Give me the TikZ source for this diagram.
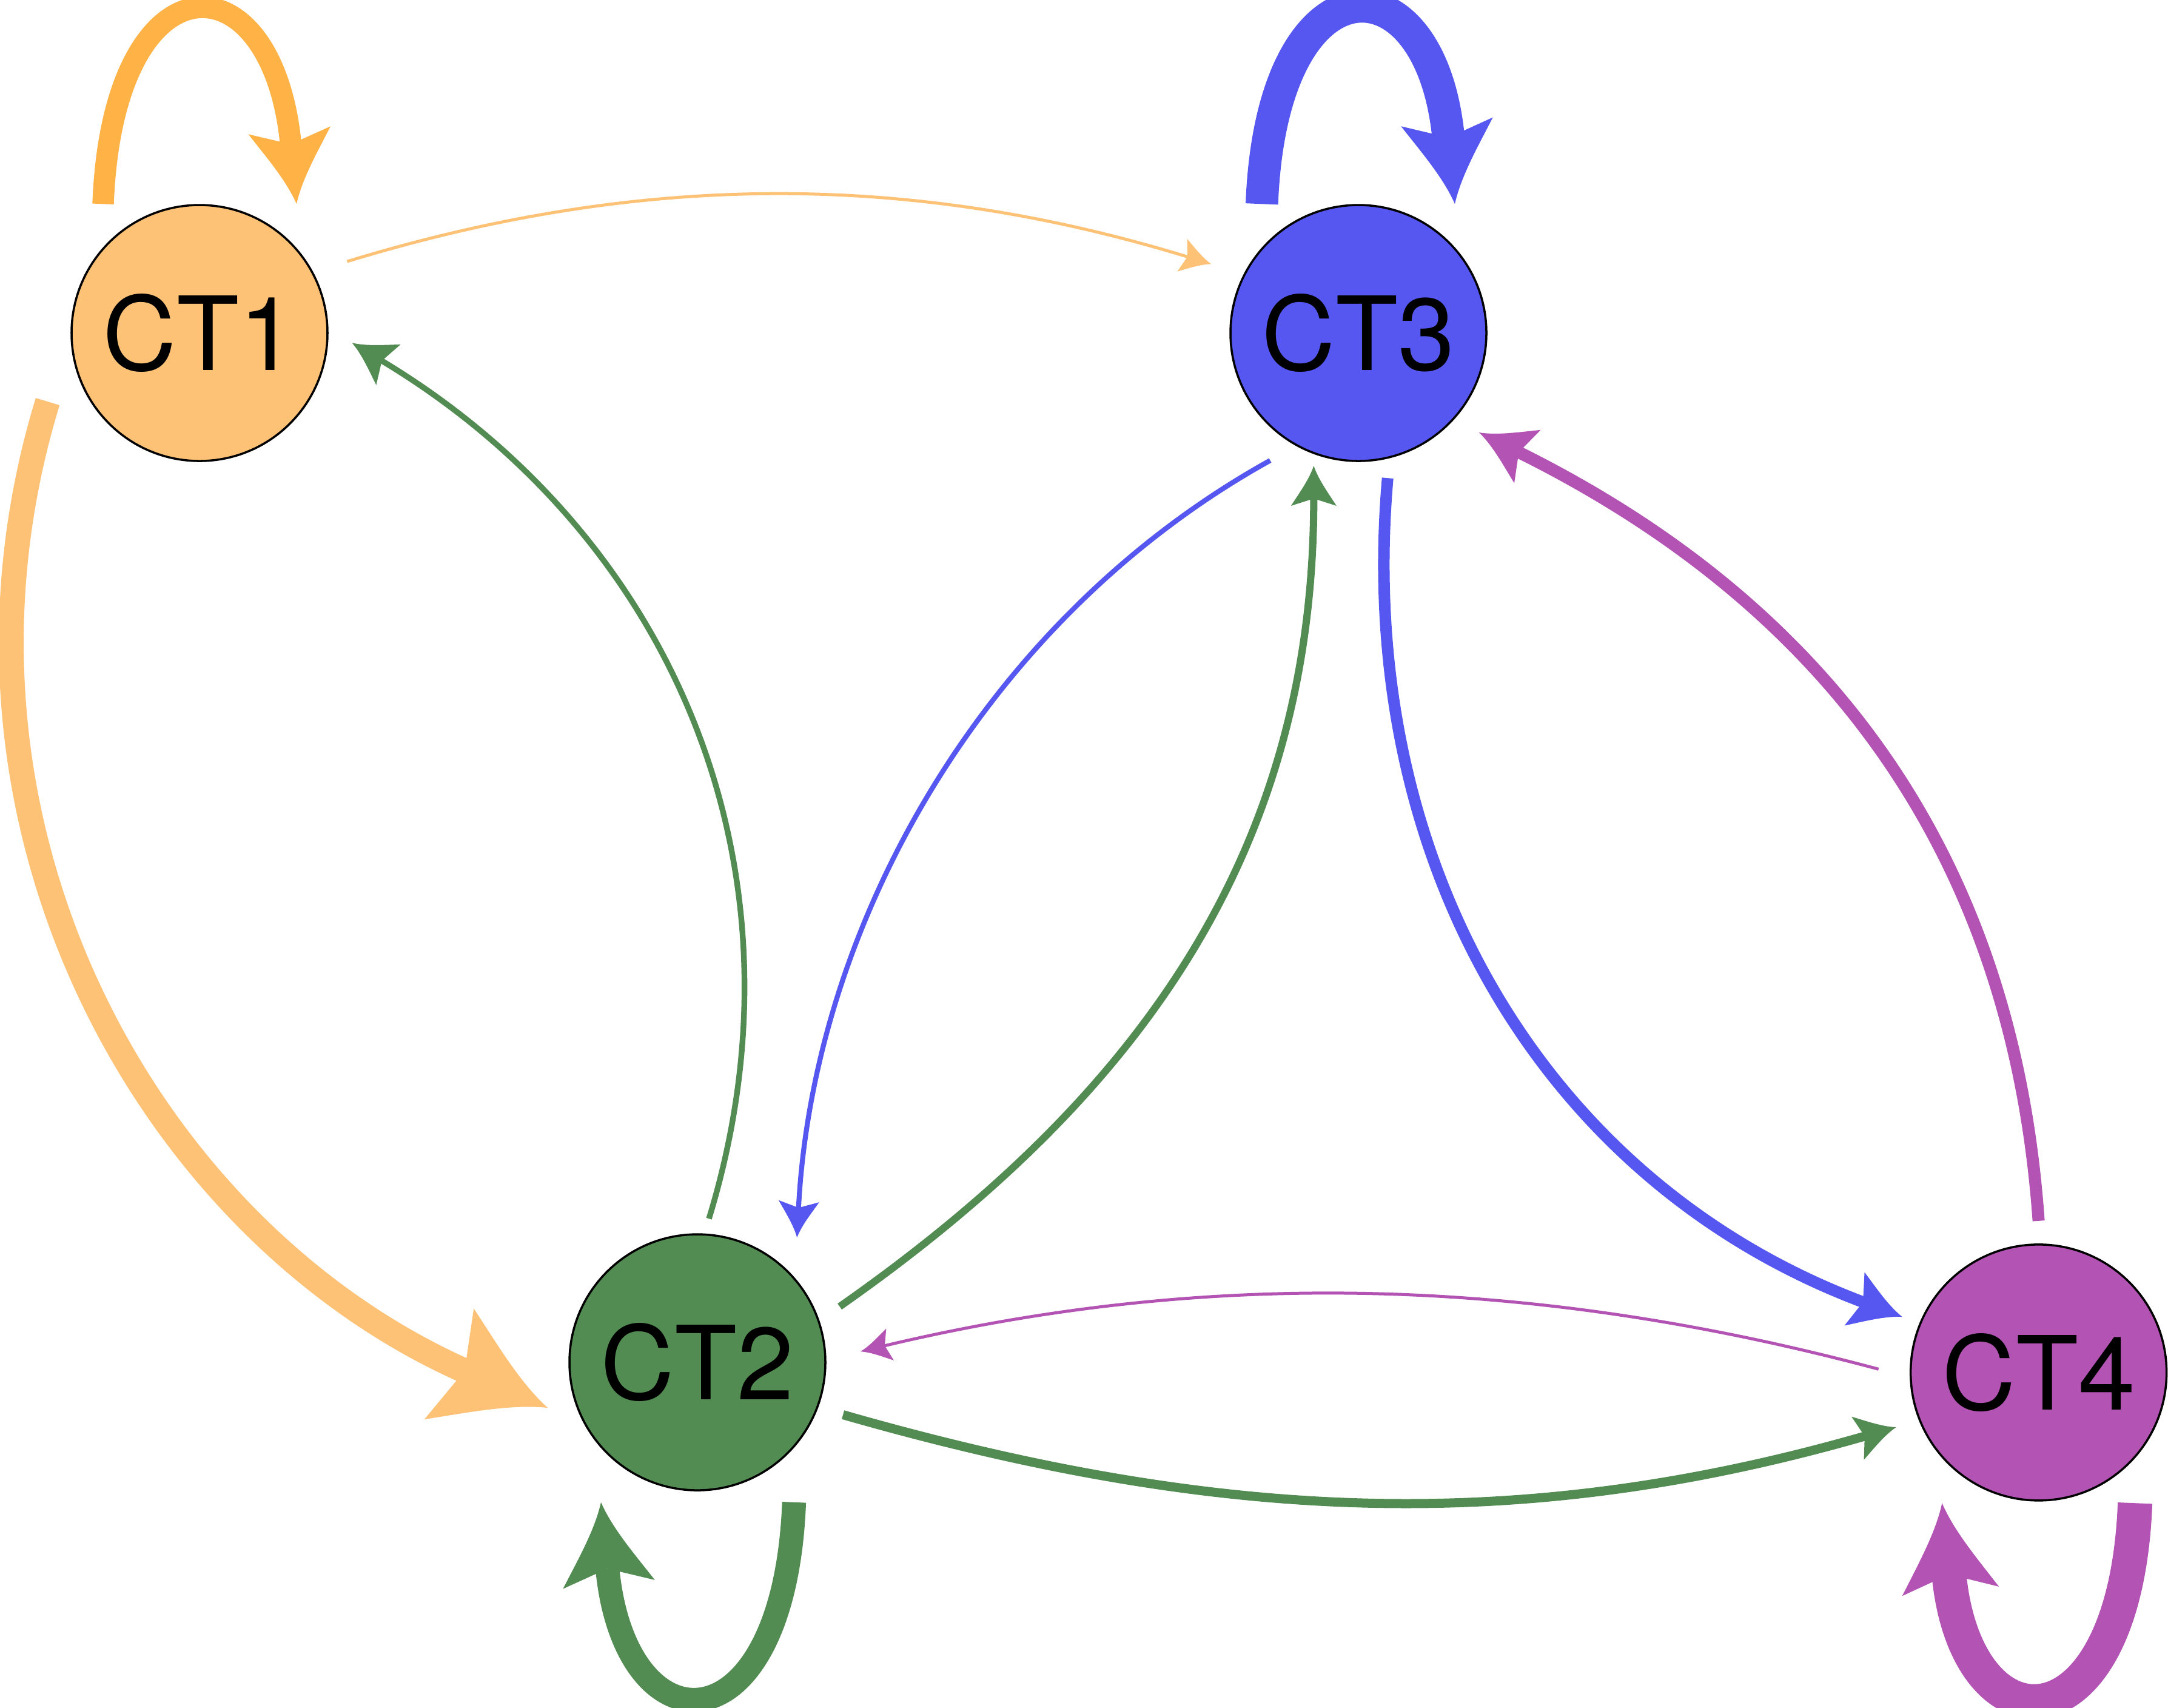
\documentclass[tikz,border=0pt]{standalone}
\usepackage{fontspec}
\setmainfont{TeX Gyre Heros}[Numbers=Lining]
\usepackage{tikz}
\usepackage{xcolor}
\usetikzlibrary{arrows.meta}
\definecolor{cOne}{RGB}{253,194,118}
\definecolor{cOneDark}{RGB}{255,178,70}
\definecolor{cTwo}{RGB}{82,140,82}
\definecolor{cThree}{RGB}{86,87,241}
\definecolor{cFour}{RGB}{179,83,180}
% arrow head with slightly concave flanks
\newdimen\swoopline
\pgfdeclarearrow{
	name = Swoop,
	parameters = {\the\pgfarrowlength,\the\pgfarrowwidth,\the\pgfarrowinset},
	setup code = {
		\pgfarrowssettipend{0pt}
		\pgfarrowssetbackend{-\pgfarrowlength}
		\swoopline=-\pgfarrowlength
		\advance\swoopline by \pgfarrowinset
		\pgfarrowssetlineend{\swoopline}
		\pgfarrowshullpoint{0pt}{0pt}
		\pgfarrowsupperhullpoint{-\pgfarrowlength}{.5\pgfarrowwidth}
		\pgfarrowssavethe\pgfarrowlength
		\pgfarrowssavethe\pgfarrowwidth
		\pgfarrowssavethe\pgfarrowinset
	},
	drawing code = {
		\pgfpathmoveto{\pgfqpoint{0pt}{0pt}}
		\pgfpathcurveto{\pgfpoint{-.333\pgfarrowlength}{.097\pgfarrowwidth}}{\pgfpoint{-.667\pgfarrowlength}{.31\pgfarrowwidth}}{\pgfpoint{-\pgfarrowlength}{.5\pgfarrowwidth}}
		\pgfpathlineto{\pgfpoint{-\pgfarrowlength+\pgfarrowinset}{0pt}}
		\pgfpathlineto{\pgfpoint{-\pgfarrowlength}{-.5\pgfarrowwidth}}
		\pgfpathcurveto{\pgfpoint{-.667\pgfarrowlength}{-.31\pgfarrowwidth}}{\pgfpoint{-.333\pgfarrowlength}{-.097\pgfarrowwidth}}{\pgfqpoint{0pt}{0pt}}
		\pgfpathclose
		\pgfusepathqfill
	},
	defaults = {length=5mm, width=5mm, inset=1mm}
}
\tikzset{
	ctnode/.style={circle, draw=black, line width=0.5pt, minimum size=2.11cm, inner sep=0pt, text=black, font=\fontsize{24}{28}\selectfont},
	link/.style n args={3}{-{Swoop[length=#1, width=#2, inset=#3]}},
}

\begin{document}
\begin{tikzpicture}
	\useasboundingbox (0,0) rectangle (17.875,-14.075);
	% cell types
	\node[ctnode, fill=cOne]   (ct1) at (1.645,-2.745)  {CT1};
	\node[ctnode, fill=cThree] (ct3) at (11.2,-2.745)   {CT3};
	\node[ctnode, fill=cTwo]   (ct2) at (5.75,-11.23)   {CT2};
	\node[ctnode, fill=cFour]  (ct4) at (16.808,-11.314) {CT4};
	% self loops
	\draw[cOneDark, line width=0.177cm, link={0.61cm}{0.68cm}{0.115cm}] ([xshift=-0.795cm]ct1.north) .. controls +(0.08,2.07) and +(-0.2,2.07) .. ([xshift=0.8cm]ct1.north);
	\draw[cThree, line width=0.268cm, link={0.68cm}{0.76cm}{0.13cm}] ([xshift=-0.796cm]ct3.north) .. controls +(0.08,2.07) and +(-0.2,2.07) .. ([xshift=0.795cm]ct3.north);
	\draw[cTwo, line width=0.197cm, link={0.68cm}{0.76cm}{0.13cm}] ([xshift=0.797cm,yshift=-0.09cm]ct2.south) .. controls +(-0.08,-2.07) and +(0.2,-2.07) .. ([xshift=-0.795cm,yshift=-0.09cm]ct2.south);
	\draw[cFour, line width=0.285cm, link={0.73cm}{0.8cm}{0.14cm}] ([xshift=0.795cm,yshift=-0.013cm]ct4.south) .. controls +(-0.08,-2.07) and +(0.2,-2.07) .. ([xshift=-0.796cm,yshift=-0.013cm]ct4.south);
	% transitions
	\draw[cOne, line width=0.205cm, link={0.89cm}{1.0cm}{0.14cm}] ([shift={(204.3:1.374)}]ct1.center) to[out=253, in=156] ([shift={(196.9:1.29)}]ct2.center);
	\draw[cOne, line width=0.025cm, link={0.25cm}{0.28cm}{0.045cm}] ([shift={(25.85:1.352)}]ct1.center) to[out=17, in=163, looseness=0.92] ([shift={(154.9:1.34)}]ct3.center);
	\draw[cTwo, line width=0.047cm, link={0.35cm}{0.39cm}{0.063cm}] ([shift={(85.4:1.188)}]ct2.center) to[out=73, in=329] ([shift={(356.3:1.26)}]ct1.center);
	\draw[cThree, line width=0.041cm, link={0.3cm}{0.335cm}{0.054cm}] ([shift={(235.3:1.278)}]ct3.center) to[out=209, in=87, looseness=0.9] ([shift={(51.4:1.316)}]ct2.center);
	\draw[cTwo, line width=0.06cm, link={0.33cm}{0.375cm}{0.06cm}] ([shift={(21.4:1.26)}]ct2.center) to[out=35, in=270] ([shift={(251.4:1.155)}]ct3.center);
	\draw[cThree, line width=0.095cm, link={0.42cm}{0.47cm}{0.075cm}] ([shift={(281.4:1.22)}]ct3.center) to[out=265, in=159.4] ([shift={(157.8:1.215)}]ct4.center);
	\draw[cFour, line width=0.1cm, link={0.445cm}{0.49cm}{0.08cm}] ([shift={(90:1.25)}]ct4.center) to[out=94, in=333.6] ([shift={(320.5:1.29)}]ct3.center);
	\draw[cFour, line width=0.025cm, link={0.25cm}{0.27cm}{0.045cm}] ([shift={(178.8:1.32)}]ct4.center) to[out=165, in=13.4, looseness=0.9] ([shift={(3.8:1.348)}]ct2.center);
	\draw[cTwo, line width=0.075cm, link={0.33cm}{0.37cm}{0.06cm}] ([shift={(340.2:1.276)}]ct2.center) to[out=344, in=196, looseness=0.95] ([shift={(201:1.258)}]ct4.center);
\end{tikzpicture}
\end{document}
